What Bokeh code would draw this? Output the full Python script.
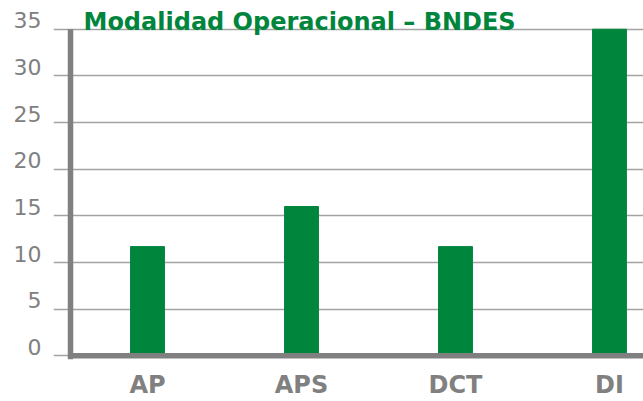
from bokeh.plotting import figure
from bokeh.models import Range1d, FixedTicker, ColumnDataSource, Label
from bokeh.embed import file_html
from bokeh.resources import INLINE

categories = ["AP", "APS", "DCT", "DI"]
values = [11.7, 16.0, 11.7, 35.0]
y_ticks = [0, 5, 10, 15, 20, 25, 30, 35]
title_text = "Modalidad Operacional \u2013 BNDES"

GREEN = "#00853D"
GRAY = "#808080"
GRID = "#A3A3A3"
FONT = "DejaVu Sans"

positions = [i + 0.5 for i in range(len(categories))]
src = ColumnDataSource(dict(x=positions, top=values, cat=categories))

y_start, y_end = -0.4, 38.08
label_shift = 0.95  # tick labels sit just above their grid lines

p = figure(width=643, height=401, output_backend="svg", toolbar_location=None,
           x_range=Range1d(-0.1104, 3.7208), y_range=Range1d(y_start, y_end),
           min_border_left=53, min_border_right=0, min_border_top=0,
           min_border_bottom=39)
p.extra_y_ranges = {"labels": Range1d(y_start - label_shift, y_end - label_shift)}
p.outline_line_color = None
p.background_fill_color = "white"
p.border_fill_color = "white"
p.title.visible = False
p.title.standoff = 0

p.ygrid.ticker = FixedTicker(ticks=y_ticks)
p.ygrid.grid_line_color = GRID
p.ygrid.grid_line_width = 1.6
p.xgrid.grid_line_color = None

p.vbar(x="x", top="top", width=0.22, bottom=0, color=GREEN, source=src)

# axis lines (y axis at x=0 up to the top tick, x axis along y=0)
p.segment(x0=[0], y0=[y_start], x1=[0], y1=[y_ticks[-1]], line_color=GRAY, line_width=5.5)
p.ray(x=[0], y=[0], length=0, angle=0, line_color=GRAY, line_width=5.5)

# title drawn inside the canvas
p.add_layout(Label(x=30, y=338, x_units="screen", y_units="screen", text=title_text,
                   text_font=FONT, text_font_size="24px", text_font_style="bold",
                   text_color=GREEN, text_align="left", text_baseline="alphabetic"))

# y axis: labels only
p.yaxis.y_range_name = "labels"
p.yaxis.ticker = FixedTicker(ticks=y_ticks)
p.yaxis.axis_line_color = None
p.yaxis.major_tick_line_color = None
p.yaxis.minor_tick_line_color = None
p.yaxis.major_tick_out = 0
p.yaxis.major_tick_in = 0
p.yaxis.major_label_text_font = FONT
p.yaxis.major_label_text_font_size = "22px"
p.yaxis.major_label_text_color = GRAY
p.yaxis.major_label_standoff = 12

# x axis: category labels only
p.xaxis.ticker = FixedTicker(ticks=positions)
p.xaxis.major_label_overrides = {pos: c for pos, c in zip(positions, categories)}
p.xaxis.axis_line_color = None
p.xaxis.major_tick_line_color = None
p.xaxis.minor_tick_line_color = None
p.xaxis.major_tick_out = 0
p.xaxis.major_tick_in = 0
p.xaxis.major_label_text_font = FONT
p.xaxis.major_label_text_font_size = "24px"
p.xaxis.major_label_text_font_style = "bold"
p.xaxis.major_label_text_color = GRAY
p.xaxis.major_label_standoff = 11

open("out.html", "w").write(file_html(p, INLINE))
